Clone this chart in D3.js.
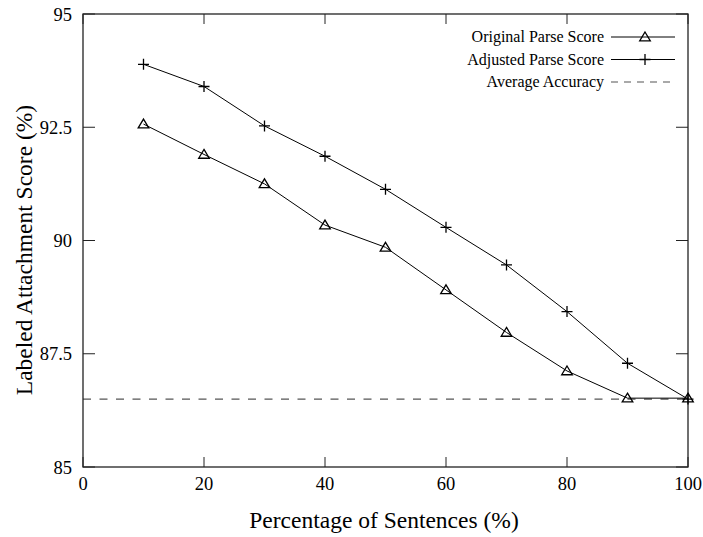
<!DOCTYPE html>
<html>
<head>
<meta charset="utf-8">
<style>
  body { margin: 0; background: #fff; }
  text { font-family: "Liberation Serif", "DejaVu Serif", serif; fill: #000; }
</style>
</head>
<body>
<svg width="703" height="537"></svg>
<script src="https://d3js.org/d3.v7.min.js"></script>
<script>

// data
let percents = [10, 20, 30, 40, 50, 60, 70, 80, 90, 100]
let originalScore = [92.57, 91.9, 91.25, 90.34, 89.85, 88.91, 87.97, 87.12, 86.52, 86.52]
let adjustedScore = [93.89, 93.4, 92.53, 91.86, 91.13, 90.29, 89.46, 88.43, 87.29, 86.5]
let averageAccuracy = 86.5
let xTicks = [0, 20, 40, 60, 80, 100]
let yTicks = [85, 87.5, 90, 92.5, 95]
let legendLabels = ["Original Parse Score", "Adjusted Parse Score", "Average Accuracy"]

let width = 703
let height = 537
let pLeft = 83, pRight = 688, pTop = 14, pBottom = 467

let svg = d3.select("svg")

let x = d3.scaleLinear().domain([0, 100]).range([pLeft, pRight])
let y = d3.scaleLinear().domain([85, 95]).range([pBottom, pTop])

// average line (under the series)
svg.append("line")
    .attr("x1", x(0)).attr("x2", x(100))
    .attr("y1", y(averageAccuracy)).attr("y2", y(averageAccuracy))
    .style("stroke", "#555")
    .style("stroke-width", 1.2)
    .style("stroke-dasharray", "8,8.5")

// ticks, inward on all four sides
let tickLen = 10
xTicks.forEach(function(t) {
    svg.append("line").attr("x1", x(t)).attr("x2", x(t)).attr("y1", pBottom).attr("y2", pBottom - tickLen)
        .style("stroke", "#222")
    svg.append("line").attr("x1", x(t)).attr("x2", x(t)).attr("y1", pTop).attr("y2", pTop + tickLen)
        .style("stroke", "#222")
    svg.append("text").attr("x", x(t)).attr("y", pBottom + 23)
        .attr("text-anchor", "middle").style("font-size", "18.5px").text(t)
})
yTicks.forEach(function(t) {
    svg.append("line").attr("x1", pLeft).attr("x2", pLeft + 12).attr("y1", y(t)).attr("y2", y(t))
        .style("stroke", "#222")
    svg.append("line").attr("x1", pRight).attr("x2", pRight - 12).attr("y1", y(t)).attr("y2", y(t))
        .style("stroke", "#222")
    svg.append("text").attr("x", pLeft - 11).attr("y", y(t) + 6.5)
        .attr("text-anchor", "end").style("font-size", "18.5px").text(t)
})

// frame
svg.append("rect")
    .attr("x", pLeft).attr("y", pTop)
    .attr("width", pRight - pLeft).attr("height", pBottom - pTop)
    .style("fill", "none")
    .style("stroke", "#222")
    .style("stroke-width", 1.3)

let line = d3.line()
    .x(function(d) { return x(d[0]) })
    .y(function(d) { return y(d[1]) })

let origPts = percents.map(function(p, i) { return [p, originalScore[i]] })
let adjPts = percents.map(function(p, i) { return [p, adjustedScore[i]] })

svg.append("path").attr("d", line(origPts))
    .style("fill", "none").style("stroke", "#000").style("stroke-width", 1)
svg.append("path").attr("d", line(adjPts))
    .style("fill", "none").style("stroke", "#000").style("stroke-width", 1)

function triangle(g, cx, cy) {
    g.append("path")
        .attr("d", "M" + cx + "," + (cy - 5) + "L" + (cx + 5.3) + "," + (cy + 3.8) + "L" + (cx - 5.3) + "," + (cy + 3.8) + "Z")
        .style("fill", "none").style("stroke", "#000").style("stroke-width", 1.3)
}
function plus(g, cx, cy) {
    g.append("path")
        .attr("d", "M" + (cx - 5.5) + "," + cy + "H" + (cx + 5.5) + "M" + cx + "," + (cy - 5.5) + "V" + (cy + 5.5))
        .style("fill", "none").style("stroke", "#000").style("stroke-width", 1.3)
}

let marks = svg.append("g")
origPts.forEach(function(d) { triangle(marks, x(d[0]), y(d[1])) })
adjPts.forEach(function(d) { plus(marks, x(d[0]), y(d[1])) })

// legend
let legend = svg.append("g")
let rowY = [37, 59.5, 82]
legendLabels.forEach(function(lbl, i) {
    legend.append("text").attr("x", 604).attr("y", rowY[i] + 5)
        .attr("text-anchor", "end").style("font-size", "16px").text(lbl)
    let l = legend.append("line").attr("x1", 611).attr("x2", 675).attr("y1", rowY[i]).attr("y2", rowY[i])
    if (i == 2) {
        l.style("stroke", "#555").style("stroke-width", 1.2).style("stroke-dasharray", "7,6")
    } else {
        l.style("stroke", "#000").style("stroke-width", 1)
    }
})
triangle(legend, 645, rowY[0])
plus(legend, 645, rowY[1])

// axis titles
svg.append("text").attr("x", 384).attr("y", 528)
    .attr("text-anchor", "middle").style("font-size", "23.5px").text("Percentage of Sentences (%)")
svg.append("text")
    .attr("transform", "translate(32,250) rotate(-90)")
    .attr("text-anchor", "middle").style("font-size", "23.5px").text("Labeled Attachment Score (%)")

</script>
</body>
</html>
